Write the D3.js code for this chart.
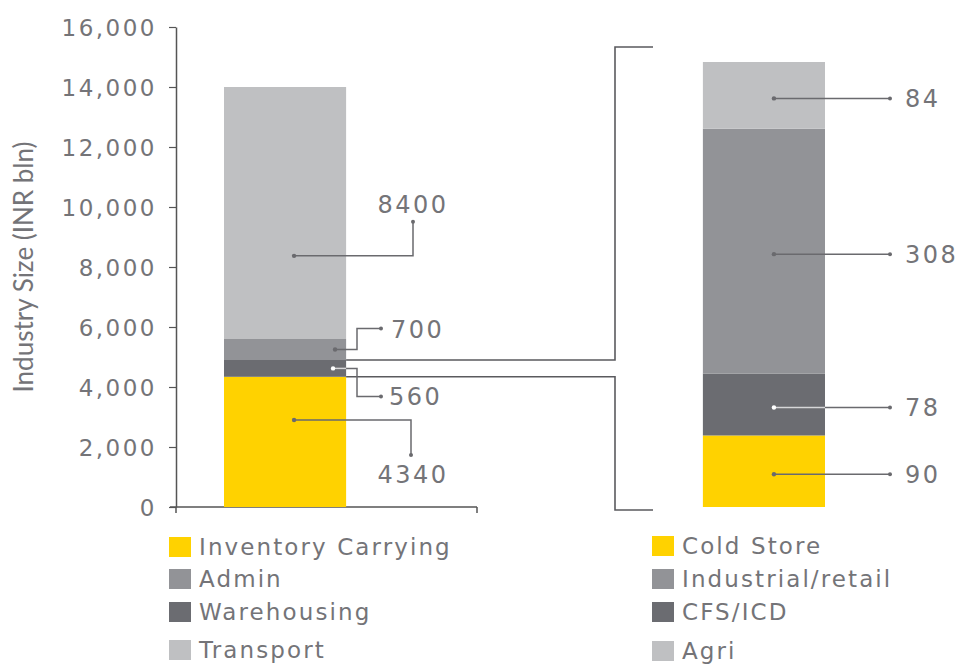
<!DOCTYPE html>
<html>
<head>
<meta charset="utf-8">
<script src="https://cdn.jsdelivr.net/npm/d3@7"></script>
<style>
  html, body { margin: 0; padding: 0; background: #ffffff; }
  svg { display: block; }
  text { font-family: "DejaVu Sans", Verdana, sans-serif; fill: #747478; }
</style>
</head>
<body>
<svg id="chart" width="967" height="664"></svg>
<script>
// ---------------- data ----------------
const leftCategories = ["Inventory Carrying", "Warehousing", "Admin", "Transport"];
const leftValues = [4340, 560, 700, 8400];
const rightCategories = ["Cold Store", "CFS/ICD", "Industrial/retail", "Agri"];
const rightValues = [90, 78, 308, 84];
const yTickValues = [0, 2000, 4000, 6000, 8000, 10000, 12000, 14000, 16000];
const leftLegendOrder = ["Inventory Carrying", "Admin", "Warehousing", "Transport"];
const rightLegendOrder = ["Cold Store", "Industrial/retail", "CFS/ICD", "Agri"];
const barNames = ["Total", "Warehousing breakdown"];
const yAxisTitle = "Industry Size (INR bln)";

// ---------------- styles ----------------
const colorMap = {
  "Inventory Carrying": "#FFD200", "Warehousing": "#6B6C71", "Admin": "#929397", "Transport": "#BFC0C2",
  "Cold Store": "#FFD200", "CFS/ICD": "#6B6C71", "Industrial/retail": "#929397", "Agri": "#BFC0C2"
};
const darkCats = new Set(["Warehousing", "CFS/ICD"]);
const lineColor = "#6a6a6e";
const innerLight = "#d6d6d8";

const svg = d3.select("#chart");

const x = d3.scaleBand().domain(barNames).range([224, 825]).paddingInner(0.745).paddingOuter(0);
const yL = d3.scaleLinear().domain([0, 16000]).range([507, 27]);
const yR = d3.scaleLinear().domain([0, d3.sum(rightValues)]).range([507, 62]);

function stack(cats, vals) {
  const ends = Array.from(d3.cumsum(vals));
  return cats.map((c, i) => ({ cat: c, value: vals[i], y0: ends[i] - vals[i], y1: ends[i] }));
}
const leftStack = stack(leftCategories, leftValues);
const rightStack = stack(rightCategories, rightValues);

// ---------------- y axis ----------------
const yAxis = d3.axisLeft(yL).tickValues(yTickValues).tickSize(7).tickSizeOuter(0)
  .tickPadding(12).tickFormat(d3.format(","));
const gy = svg.append("g").attr("transform", "translate(176,0)").call(yAxis);
gy.select(".domain").attr("stroke", "#555").attr("stroke-width", 1.5);
gy.selectAll(".tick line").attr("stroke", "#555").attr("stroke-width", 1.2);
gy.selectAll(".tick text").style("font-size", "23px").style("letter-spacing", "2.5px")
  .attr("fill", "#747478").attr("dy", "0.36em");

// x baseline
svg.append("line").attr("x1", 170).attr("x2", 477).attr("y1", yL(0)).attr("y2", yL(0))
  .attr("stroke", "#555").attr("stroke-width", 1.5);
svg.append("line").attr("x1", 477).attr("x2", 477).attr("y1", yL(0)).attr("y2", yL(0) + 6)
  .attr("stroke", "#555").attr("stroke-width", 1.5);
svg.append("line").attr("x1", 176).attr("x2", 176).attr("y1", yL(0)).attr("y2", yL(0) + 6)
  .attr("stroke", "#555").attr("stroke-width", 1.5);

// y axis title
svg.append("text")
  .attr("transform", `translate(33,${(yL(0) + yL(16000)) / 2}) rotate(-90)`)
  .attr("text-anchor", "middle")
  .style("font-family", "Lato, 'Open Sans', sans-serif")
  .style("font-size", "26px")
  .attr("fill", "#7a7a7e")
  .text(yAxisTitle);

// ---------------- bars ----------------
svg.append("g").selectAll("rect").data(leftStack).join("rect")
  .attr("x", x(barNames[0])).attr("width", x.bandwidth())
  .attr("y", d => yL(d.y1)).attr("height", d => yL(d.y0) - yL(d.y1))
  .attr("fill", d => colorMap[d.cat]);

svg.append("g").selectAll("rect").data(rightStack).join("rect")
  .attr("x", x(barNames[1])).attr("width", x.bandwidth())
  .attr("y", d => yR(d.y1)).attr("height", d => yR(d.y0) - yR(d.y1))
  .attr("fill", d => colorMap[d.cat]);

// ---------------- bracket connecting warehousing ----------------
const whs = leftStack[1];
const lRight = x(barNames[0]) + x.bandwidth();
const rRight = x(barNames[1]) + x.bandwidth();
const brX = 615, stubX = 653;
const bracketTop = yR(d3.sum(rightValues)) - 15;
const bracketBot = yR(0) + 3;
svg.append("path")
  .attr("d", `M${lRight},${yL(whs.y1)} H${brX} V${bracketTop} H${stubX}`)
  .attr("fill", "none").attr("stroke", "#5a5a5e").attr("stroke-width", 1.6);
svg.append("path")
  .attr("d", `M${lRight},${yL(whs.y0)} H${brX} V${bracketBot} H${stubX}`)
  .attr("fill", "none").attr("stroke", "#5a5a5e").attr("stroke-width", 1.6);

// ---------------- left annotations ----------------
const cxL = x(barNames[0]) + x.bandwidth() / 2;
function segMid(d, f) { return yL(d.y0 + (d.y1 - d.y0) * f); }
const leftAnn = [
  { d: leftStack[3], dot: [cxL + 9, segMid(leftStack[3], 0.33)], corner: 413, end: -34, textX: 413, anchor: "middle", textDy: -43 },
  { d: leftStack[2], dot: [cxL + 50, segMid(leftStack[2], 0.5)], corner: 357, end: -21, tail: 381, textX: 391, anchor: "start" },
  { d: leftStack[1], dot: [cxL + 48, segMid(leftStack[1], 0.5)], corner: 357, end: 28, tail: 381, textX: 389, anchor: "start" },
  { d: leftStack[0], dot: [cxL + 9, segMid(leftStack[0], 0.668)], corner: 411, end: 35, textX: 413, anchor: "middle", textDy: 63 }
];
const ga = svg.append("g");
leftAnn.forEach(a => {
  const [dx, dy] = a.dot;
  const yEnd = dy + a.end;
  let dPath = `M${dx},${dy} H${a.corner} V${yEnd}`;
  let endX = a.corner;
  if (a.tail) { dPath += ` H${a.tail}`; endX = a.tail; }
  ga.append("path").attr("d", dPath).attr("fill", "none").attr("stroke", lineColor).attr("stroke-width", 1.5);
  const dark = darkCats.has(a.d.cat);
  if (dark) {
    ga.append("line").attr("x1", dx).attr("x2", lRight).attr("y1", dy).attr("y2", dy)
      .attr("stroke", innerLight).attr("stroke-width", 1.5);
  }
  ga.append("circle").attr("cx", dx).attr("cy", dy).attr("r", 2.2).attr("fill", dark ? "#ffffff" : lineColor);
  ga.append("circle").attr("cx", endX).attr("cy", yEnd).attr("r", 2).attr("fill", lineColor);
  const ty = a.tail ? yEnd + 9 : dy + a.textDy;
  ga.append("text").attr("x", a.textX).attr("y", ty).attr("text-anchor", a.anchor)
    .style("font-size", "24px").style("letter-spacing", "2.5px").text(a.d.value);
});

// ---------------- right annotations ----------------
const cxR = x(barNames[1]) + x.bandwidth() / 2;
const gr = svg.append("g");
rightStack.forEach(d => {
  const yy = yR((d.y0 + d.y1) / 2) + 3;
  const dark = darkCats.has(d.cat);
  gr.append("line").attr("x1", cxR + 10).attr("x2", 890).attr("y1", yy).attr("y2", yy)
    .attr("stroke", lineColor).attr("stroke-width", 1.5);
  if (dark) {
    gr.append("line").attr("x1", cxR + 10).attr("x2", rRight).attr("y1", yy).attr("y2", yy)
      .attr("stroke", innerLight).attr("stroke-width", 1.5);
  }
  gr.append("circle").attr("cx", cxR + 10).attr("cy", yy).attr("r", 2.2).attr("fill", dark ? "#ffffff" : lineColor);
  gr.append("circle").attr("cx", 890).attr("cy", yy).attr("r", 2).attr("fill", lineColor);
  gr.append("text").attr("x", 905).attr("y", yy + 9).style("font-size", "24px")
    .style("letter-spacing", "2.5px").text(d.value);
});

// ---------------- legends ----------------
function legend(items, x0, rows) {
  const g = svg.append("g");
  items.forEach((name, i) => {
    const cy = rows[i];
    g.append("rect").attr("x", x0).attr("y", cy - 10).attr("width", 22).attr("height", 20)
      .attr("fill", colorMap[name]);
    g.append("text").attr("x", x0 + 30).attr("y", cy + 8).style("font-size", "23px")
      .style("letter-spacing", "2.1px").text(name);
  });
}
legend(leftLegendOrder, 169, [547, 579, 612, 650]);
legend(rightLegendOrder, 652, [546, 579, 612, 651]);
</script>
</body>
</html>
